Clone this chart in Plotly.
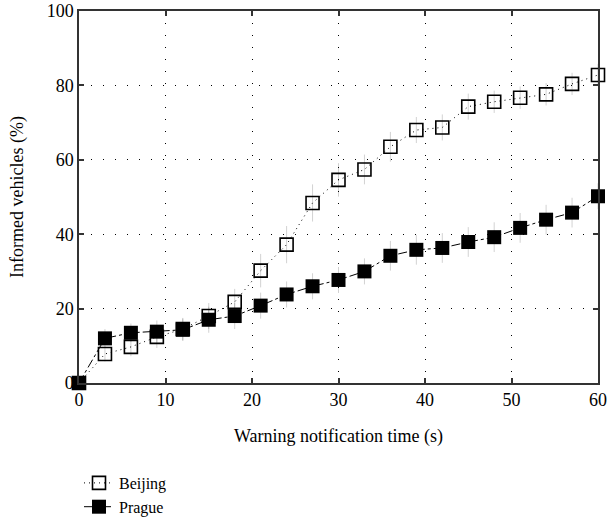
import plotly.graph_objects as go

time_s = [0, 3, 6, 9, 12, 15, 18, 21, 24, 27, 30, 33, 36, 39, 42, 45, 48, 51, 54, 57, 60]
beijing = [0, 7.8, 9.7, 12.4, 14.5, 18.0, 21.8, 30.2, 37.2, 48.4, 54.6, 57.4, 63.5, 68.0, 68.7,
           74.3, 75.6, 76.7, 77.6, 80.4, 82.8]
prague = [0, 12.0, 13.5, 13.8, 14.3, 17.0, 18.0, 20.8, 23.8, 26.0, 27.7, 30.0, 34.2, 35.8, 36.3,
          37.9, 39.2, 41.7, 43.9, 45.8, 50.2]
beijing_err = [0, 2.0, 2.5, 3.0, 3.0, 3.5, 3.5, 4.5, 5.0, 5.0, 4.5, 4.0, 4.0, 3.5, 3.5,
               3.5, 3.0, 3.0, 3.0, 3.0, 3.0]
prague_err = [0, 2.5, 2.5, 3.0, 3.0, 3.5, 3.5, 3.5, 3.5, 3.5, 3.5, 3.5, 4.0, 4.0, 4.0,
              4.0, 4.0, 4.0, 4.0, 4.0, 3.5]

x_ticks = [0, 10, 20, 30, 40, 50, 60]
y_ticks = [0, 20, 40, 60, 80, 100]

font_family = "Times New Roman, Liberation Serif, serif"

fig = go.Figure()
fig.add_trace(go.Scatter(
    x=time_s, y=beijing, name="Beijing", mode="lines+markers",
    line=dict(color="black", width=1, dash="1px,4px"),
    marker=dict(symbol="square-open", size=13, color="black", line=dict(width=1.6)),
    error_y=dict(type="data", array=beijing_err, color="rgba(0,0,0,0.3)", thickness=0.6, width=0),
    cliponaxis=False,
))
fig.add_trace(go.Scatter(
    x=time_s, y=prague, name="Prague", mode="lines+markers",
    line=dict(color="black", width=1, dash="dashdot"),
    marker=dict(symbol="square", size=14, color="black"),
    error_y=dict(type="data", array=prague_err, color="rgba(0,0,0,0.3)", thickness=0.6, width=0),
    cliponaxis=False,
))

axis_common = dict(
    showline=True, linecolor="#333", linewidth=1.5, mirror="ticks",
    ticks="inside", ticklen=5, tickcolor="#333", tickwidth=1.5,
    showgrid=True, gridcolor="black", gridwidth=1, griddash="1px,11px",
    zeroline=False, automargin=False,
    tickfont=dict(family=font_family, size=18, color="black"),
)

fig.update_xaxes(range=[0, 60], tickvals=x_ticks,
                 title=dict(text="Warning notification time (s)",
                            font=dict(family=font_family, size=18, color="black"), standoff=20),
                 **axis_common)
fig.update_yaxes(range=[0, 100], tickvals=y_ticks,
                 title=dict(text="Informed vehicles (%)",
                            font=dict(family=font_family, size=18, color="black"), standoff=18),
                 **axis_common)

fig.update_layout(
    width=607, height=524,
    margin=dict(l=79, r=9, t=11, b=141),
    plot_bgcolor="white", paper_bgcolor="white",
    font=dict(family=font_family, size=17, color="black"),
    showlegend=True,
    legend=dict(x=0.0, y=0.0, xanchor="left", yanchor="bottom", yref="container",
                bgcolor="rgba(0,0,0,0)", tracegroupgap=0,
                font=dict(family=font_family, size=16, color="black"),
                itemwidth=30),
)

fig.write_html("out.html")
